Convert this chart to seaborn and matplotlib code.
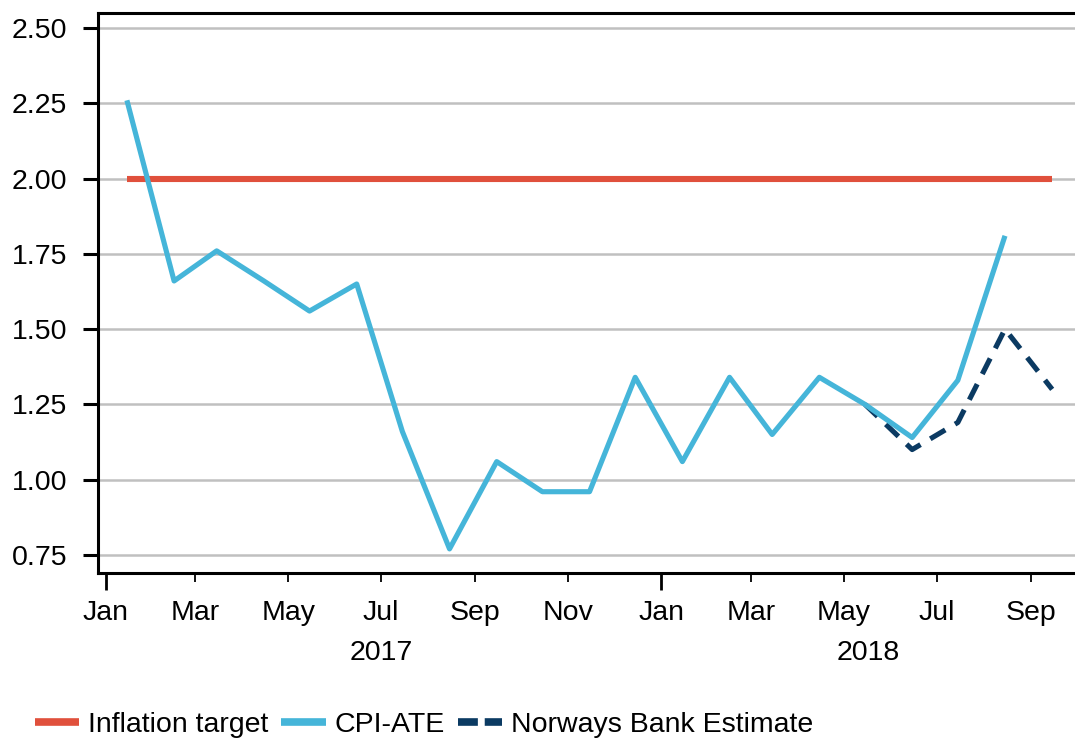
import matplotlib
matplotlib.use("Agg")
import matplotlib.pyplot as plt
import matplotlib.dates as mdates
import seaborn as sns
import pandas as pd
import numpy as np

# ---- data ----
cpi_months = pd.date_range("2017-01-01", periods=20, freq="MS") + pd.Timedelta(days=14)
cpi_values = [2.26, 1.66, 1.76, 1.66, 1.56, 1.65, 1.16, 0.77, 1.06, 0.96,
              0.96, 1.34, 1.06, 1.34, 1.15, 1.34, 1.25, 1.14, 1.33, 1.81]
est_months = pd.to_datetime(["2018-05-15", "2018-06-15", "2018-07-15", "2018-08-15", "2018-09-15"])
est_values = [1.25, 1.10, 1.19, 1.50, 1.30]
target_months = pd.to_datetime(["2017-01-15", "2018-09-15"])
target_values = [2.0, 2.0]
y_ticks = [0.75, 1.00, 1.25, 1.50, 1.75, 2.00, 2.25, 2.50]
year_labels = ["2017", "2018"]
year_label_pos = pd.to_datetime(["2017-07-01", "2018-05-17"])

sns.set_theme(style="white")
plt.rcParams["font.family"] = ["Liberation Sans", "DejaVu Sans"]
plt.rcParams["text.color"] = "black"
plt.rcParams["xtick.color"] = "black"
plt.rcParams["ytick.color"] = "black"

FS = 20.5
RED = "#E0503C"
CYAN = "#45B5D9"
NAVY = "#0B3A62"

fig = plt.figure(figsize=(10.75, 7.41), dpi=100)
ax = fig.add_axes([98/1075, 1-573/741, 1-98/1075, (573-13)/741])

df_t = pd.DataFrame({"date": target_months, "value": target_values})
df_c = pd.DataFrame({"date": cpi_months, "value": cpi_values})
df_e = pd.DataFrame({"date": est_months, "value": est_values})

sns.lineplot(data=df_t, x="date", y="value", ax=ax, color=RED, linewidth=4.4,
             label="Inflation target", zorder=3)
sns.lineplot(data=df_e, x="date", y="value", ax=ax, color=NAVY, linewidth=3.7,
             label="Norways Bank Estimate", zorder=3.5)
ax.lines[-1].set_dashes((3.4, 2.2))
sns.lineplot(data=df_c, x="date", y="value", ax=ax, color=CYAN, linewidth=3.7,
             label="CPI-ATE", zorder=4)
for ln in ax.lines:
    ln.set_solid_capstyle("butt")
    ln.set_dash_capstyle("butt")

ax.set_ylim(0.69, 2.55)
ax.set_yticks(y_ticks)
ax.set_yticklabels([f"{v:.2f}" for v in y_ticks])
ax.set_xlim(pd.Timestamp("2016-12-27"), pd.Timestamp("2018-09-30"))
ax.yaxis.grid(True, color="#C0C0C0", lw=1.8)
ax.xaxis.grid(False)
ax.set_axisbelow(True)

ax.xaxis.set_major_locator(mdates.MonthLocator(bymonth=[1]))
ax.xaxis.set_major_formatter(mdates.DateFormatter("%b"))
ax.xaxis.set_minor_locator(mdates.MonthLocator(bymonth=[3, 5, 7, 9, 11]))
ax.xaxis.set_minor_formatter(mdates.DateFormatter("%b"))
ax.tick_params(axis="x", which="major", length=12, width=2, labelsize=FS, pad=7.5,
               bottom=True, direction="out")
ax.tick_params(axis="x", which="minor", length=6.5, width=1.3, labelsize=FS, pad=13,
               bottom=True, direction="out")
ax.tick_params(axis="y", length=11, width=2.2, labelsize=FS, pad=11, left=True)

for s in ["left", "bottom", "top"]:
    ax.spines[s].set_visible(True)
    ax.spines[s].set_color("black")
    ax.spines[s].set_linewidth(2.2)
ax.spines["right"].set_visible(False)

ax.set_xlabel("")
ax.set_ylabel("")

for lab, pos in zip(year_labels, year_label_pos):
    ax.text(pos, -0.142, lab, transform=ax.get_xaxis_transform(), ha="center", va="center",
            fontsize=FS)

handles, labels = ax.get_legend_handles_labels()
order = [labels.index("Inflation target"), labels.index("CPI-ATE"), labels.index("Norways Bank Estimate")]
ax.get_legend().remove()
leg = fig.legend([handles[i] for i in order], [labels[i] for i in order],
                 loc="center left", bbox_to_anchor=(35/1075, 1-725/741), ncol=3, frameon=False,
                 fontsize=FS, handlelength=1.55, handletextpad=0.32, columnspacing=0.45,
                 borderpad=0, borderaxespad=0)
for ln in leg.get_lines():
    ln.set_linewidth(5.5)
    ln.set_solid_capstyle("butt")
    ln.set_dash_capstyle("butt")
leg.get_lines()[2].set_dashes((2.6, 0.9))

fig.savefig("out.png", dpi=100)
